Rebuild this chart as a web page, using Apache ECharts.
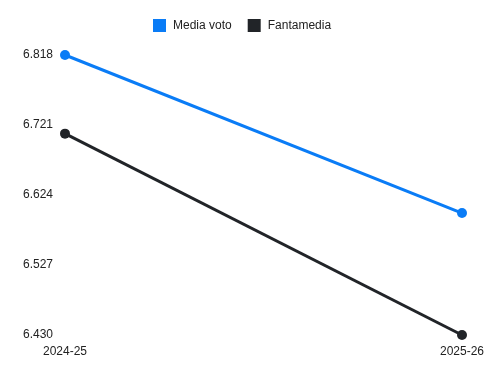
<!DOCTYPE html>
<html>
<head>
<meta charset="utf-8">
<script src="https://cdn.jsdelivr.net/npm/echarts@6/dist/echarts.min.js"></script>
<style>html,body{margin:0;padding:0;background:#fff}#c{width:500px;height:375px}</style>
</head>
<body>
<div id="c"></div>
<script>
var categories = ['2024-25', '2025-26'];
var mediaVoto = [6.818, 6.599];
var fantamedia = [6.709, 6.430];
var yTicks = [6.430, 6.527, 6.624, 6.721, 6.818];

var chart = echarts.init(document.getElementById('c'), null, {renderer: 'canvas'});
chart.setOption({
  animation: false,
  backgroundColor: '#ffffff',
  textStyle: {fontFamily: 'Liberation Sans, Arial, sans-serif'},
  legend: {
    left: 153, top: 19, padding: 0,
    itemWidth: 13, itemHeight: 13, itemGap: 16,
    icon: 'rect',
    textStyle: {fontSize: 12, color: '#222', padding: [0, 0, 0, 2]},
    data: ['Media voto', 'Fantamedia']
  },
  grid: {left: 65, right: 38, top: 55, bottom: 40, containLabel: false},
  xAxis: {
    type: 'category', data: categories, boundaryGap: false,
    axisLine: {show: false}, axisTick: {show: false},
    axisLabel: {fontSize: 12, color: '#222', margin: 11},
    splitLine: {show: false}
  },
  yAxis: {
    type: 'value', min: yTicks[0], max: yTicks[yTicks.length - 1],
    axisLine: {show: false}, axisTick: {show: false}, splitLine: {show: false},
    axisLabel: {
      fontSize: 12, color: '#222', margin: 12,
      customValues: yTicks,
      formatter: function (v) { return v.toFixed(3); }
    }
  },
  series: [
    {name: 'Media voto', type: 'line', data: mediaVoto, color: '#0a7cf6',
     symbol: 'circle', symbolSize: 10, lineStyle: {width: 3}},
    {name: 'Fantamedia', type: 'line', data: fantamedia, color: '#212428',
     symbol: 'circle', symbolSize: 10, lineStyle: {width: 3}}
  ]
});
</script>
</body>
</html>
